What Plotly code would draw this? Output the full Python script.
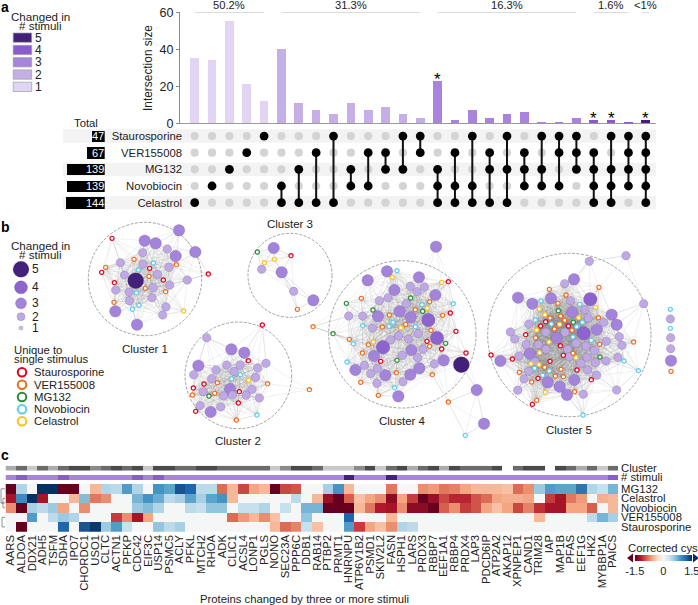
import numpy as np
import plotly.graph_objects as go

W, H = 698, 605
FONT = "Liberation Sans"
TXT = "#222222"

# ---- panel a: upset plot
set_names = ["Staurosporine", "VER155008", "MG132", "Novobiocin", "Celastrol"]
set_codes = "SVMNC"
set_totals = [47, 67, 139, 139, 144]
intersections = ["C", "N", "M", "V", "S",
                 "NC", "MC", "VC", "SC", "MN", "VN", "VM", "SM", "SV",
                 "MNC", "VNC", "SNC", "VMC", "SMC", "VMN", "SMN", "SVN", "SVM",
                 "VMNC", "SMNC", "SVMN", "SVMNC"]
intersection_sizes = [35, 34, 55, 21, 12,
                      40, 11, 7, 5, 11, 7, 9, 5, 3,
                      23, 2, 7, 3, 5, 6, 1, 1, 3,
                      2, 2, 1, 2]
star_cols = [14, 23, 24, 26]
pct_labels = ["50.2%", "31.3%", "16.3%", "1.6%", "<1%"]
pct_start = [0, 5, 14, 23, 25.8]
pct_end = [4, 13, 22, 25, 26.2]
pct_mid = [2, 9, 18, 24, 26]
stim_levels = [5, 4, 3, 2, 1]
stim_colors = {1: "#E2D5F3", 2: "#C6AEE7", 3: "#A884DC", 4: "#8A5CCB", 5: "#43217B"}

# ---- panel b: network, layout units are 1/3 px from (0, 215)
node_px = {5: 16, 4: 13.5, 3: 11.5, 2: 8.5}
node_col = {5: "#43217B", 4: "#8D63CE", 3: "#A384DA", 2: "#BFA9E4"}
ring_col = {"red": "#E1001E", "orange": "#F26A1B", "green": "#2E8B3A", "blue": "#5CCBF5", "yellow": "#FBC21A"}

c1_nodes = {5: [(407, 197)],
            3: [(537, 46), (434, 77), (467, 85), (586, 111), (527, 123), (346, 289), (411, 329)],
            2: [(502, 102), (428, 113), (361, 143), (429, 147), (507, 157), (472, 178), (373, 180), (562, 195),
                (509, 210), (459, 218), (347, 225), (387, 231), (456, 248), (388, 257), (498, 276), (488, 300)]}
c1_rings = {"red": [(336, 70), (305, 172), (449, 160), (490, 195), (343, 203), (625, 177)],
            "orange": [(402, 133), (317, 157), (529, 149), (447, 184), (436, 220), (497, 230), (342, 262)],
            "blue": [(460, 144), (415, 165), (409, 233), (417, 271), (397, 283)],
            "yellow": [(551, 288)]}

c2_nodes = {3: [(595, 452), (632, 591), (694, 403), (733, 413), (690, 522)],
            2: [(620, 368), (720, 450), (798, 445), (773, 459), (648, 465), (680, 450), (702, 469), (767, 487),
                (581, 479), (635, 491), (600, 572), (662, 576), (671, 543), (697, 540), (739, 541), (778, 549),
                (756, 523), (609, 530)]}
c2_rings = {"red": [(787, 330), (745, 437), (580, 519), (612, 507), (718, 530), (715, 564), (587, 589)],
            "orange": [(928, 524), (803, 506), (652, 503), (644, 535), (577, 540), (709, 615)],
            "green": [(627, 543)],
            "blue": [(695, 491), (721, 479), (771, 600)],
            "yellow": [(746, 496)]}

c3_nodes = {3: [(821, 99), (845, 172), (940, 256)],
            2: [(785, 163), (881, 229)]}
c3_rings = {"green": [(772, 111)], "red": [(873, 122)], "yellow": [(823, 133), (793, 143)], "orange": [(892, 283)]}

# clusters 4, 5 and the loose column were read with x measured from 340 px
right_offset = 1020
c4_nodes = {5: [(364, 449)],
            4: [(129, 397), (265, 315), (291, 369)],
            3: [(288, 95), (410, 525), (432, 626), (83, 196), (141, 169), (237, 187), (163, 225), (286, 240),
                (179, 289), (114, 304), (212, 307), (102, 423), (214, 405), (46, 465), (136, 481), (211, 479),
                (238, 460), (311, 436), (175, 544)],
            2: [(211, 214), (231, 230), (253, 216), (144, 248), (118, 257), (199, 266), (26, 303), (68, 303),
                (97, 339), (235, 356), (176, 362), (206, 372), (152, 374), (249, 403), (187, 421), (233, 428),
                (283, 447), (73, 451), (92, 476), (112, 460), (111, 505), (189, 500)]}
c4_rings = {"blue": [(171, 167), (340, 266), (246, 269), (68, 332), (147, 334), (159, 322), (226, 335), (40, 386),
                     (21, 441), (164, 518), (376, 661)],
            "yellow": [(157, 187), (305, 202), (262, 280), (183, 338), (100, 381)],
            "red": [(325, 200), (331, 294), (348, 349), (261, 379), (305, 402), (378, 414), (122, 439)],
            "orange": [(64, 250), (269, 260), (226, 284), (148, 300), (308, 301), (127, 336), (197, 328), (273, 346),
                       (85, 389), (28, 373), (269, 394), (67, 414), (169, 473), (277, 479), (62, 502), (115, 541),
                       (325, 561), (-81, 335)],
            "green": [(19, 265), (212, 249), (99, 285), (248, 289), (317, 385), (171, 436), (-21, 356)]}

c5_nodes = {4: [(751, 253), (731, 355)],
            3: [(534, 248), (577, 266), (633, 250), (702, 193), (697, 291), (815, 299), (830, 329), (770, 344),
                (650, 369), (569, 416), (481, 438), (623, 502), (659, 515), (703, 495), (681, 540)],
            2: [(748, 139), (858, 122), (911, 266), (674, 206), (692, 257), (735, 284), (745, 309), (791, 322),
                (566, 327), (511, 351), (524, 372), (618, 352), (675, 352), (838, 365), (846, 391), (799, 379),
                (558, 389), (595, 389), (683, 403), (708, 385), (618, 403), (738, 393), (763, 407), (537, 423),
                (741, 427), (834, 427), (798, 438), (766, 443), (723, 445), (688, 425), (743, 465), (770, 481),
                (566, 469), (552, 492), (533, 526), (730, 538), (830, 525), (585, 440)]}
c5_rings = {"red": [(453, 420), (517, 432), (557, 359), (602, 333), (617, 320), (685, 333), (661, 392), (670, 421),
                    (630, 439), (711, 465), (754, 494), (594, 490), (577, 568)],
            "orange": [(628, 223), (678, 240), (777, 217), (654, 265), (662, 303), (630, 309), (674, 316), (775, 308),
                       (696, 346), (587, 368), (643, 342), (779, 388), (881, 381), (699, 415), (614, 457), (663, 463),
                       (646, 483), (670, 485), (575, 501), (538, 472), (704, 530), (590, 556)],
            "yellow": [(598, 282), (615, 299), (659, 328), (590, 345), (716, 308), (767, 277), (627, 381), (599, 413),
                       (708, 428), (573, 446), (597, 449), (616, 532)],
            "blue": [(603, 258), (719, 268), (586, 315), (634, 327), (710, 335), (727, 322), (699, 366), (754, 376),
                     (584, 460), (628, 467), (608, 481), (852, 438), (895, 467), (729, 600)],
            "green": [(655, 287), (700, 322), (780, 426)]}

loose_nodes = {3: [(993, 437)], 2: [(991, 312), (992, 368), (992, 401)]}
loose_rings = {"blue": [(991, 283), (991, 340)], "orange": [(993, 469)]}

# name, centre x, centre y, radius, label x, label y
cluster_circles = [("Cluster 1", 435, 192, 170, 436, 401),
                   ("Cluster 2", 715, 481, 160, 713, 678),
                   ("Cluster 3", 870, 181, 126, 870, 27),
                   ("Cluster 4", 1207, 358, 221, 1208, 617),
                   ("Cluster 5", 1708, 360, 245, 1708, 645)]

# ---- panel c: heatmap
proteins = ["AARS", "ALDOA", "DDX21", "ADH5", "TSFM", "SDHA", "IPO7", "CHORDC1", "USO1", "CLTC", "ACTN1", "PFKP",
            "CDC42", "EIF3C", "USP14", "PSMC5", "ACLY", "PFKL", "MTCH2", "RHOA", "ADK", "CLIC1", "ACSL4", "LONP1",
            "PGLS", "NONO", "SEC23A", "PPP6C", "DDB1", "RAB14", "PTBP2", "PRMT1", "HNRNPU", "ATP6V1B2", "PSMD1",
            "SKIV2L2", "FASN", "HSPH1", "LARS", "PRDX3", "RBBP7", "EEF1A1", "RBBP4", "PRDX4", "LAP3", "PDCD6IP",
            "ATP2A2", "AKAP12", "XPNPEP1", "CAND1", "TRIM28", "IAP", "MAP1B", "PFAS", "EEF1G", "HK2", "MYBBP1A",
            "PAICS"]
mg132 = [-1.5, .45, 0, 1.5, 1.5, -1.5, -1.5, 0, -.5, .45, .4, .85, .45, 0, .9, .8, 1.3, 1.2, .4, .4, -.85, -.5,
         -1.0, -.6, -.5, -1.5, -1.0, -.95, 0, 0, .5, .9, -.5, 0, 0, 0, -.8, 0, 0, -.7, -.65, -.8, -.75, -.6, -.5,
         -.5, -.5, -.45, -.85, -.7, .55, .85, .8, .8, 1.1, .45, .35, .7]
celastrol = [-1.25, .95, 1.5, -1.25, 0, 0, -.5, .65, -.8, -.7, 0, 0, .7, .9, .75, .4, .5, .8, .5, .8, .9, -.5,
             0, 0, 0, 0, 0, .4, 0, -.5, -1.3, -1.5, -.9, -.45, -.6, -.7, -1.35, -.6, -1.05, -1.5, -1.3, -1.0, -1.15,
             -1.15, -.95, -.85, -.6, -.55, -.55, -.6, 0, -1.05, -1.25, -.8, -.65, 0, -.55, -.5]
novobiocin = [-.7, -1.5, .5, .4, .55, -.6, 0, -.7, 0, 0, 0, 0, .55, .65, .45, 0, 0, .4, .35, .6, .6, 0, .35, .35,
              .45, 0, .35, 0, .7, .7, -1.5, -1.5, -1.5, -.5, -.8, -1.2, -1.25, -.7, -1.35, -1.35, -1.5, -.9, -.7,
              -1.05, -.95, -.6, -.45, -.6, -1.0, -.75, -1.1, -1.25, -1.25, -.6, -.6, -.9, 0, -.5]
ver155008 = [0, 0, .85, 0, .4, .55, .45, 0, 0, 0, -1.05, -.7, -1.25, -.6, 0, 0, 0, 0, 0, 0, 0, -.85, -.65, -.5,
             -.7, -.45, 0, 0, .6, 0, 0, 0, 1.2, 0, 0, 0, -.5, 0, 0, 0, 0, 0, 0, 0, 0, 0, 0, 0, 0, 0, -.5, 0, 0, 0, 0,
             .4, .7, .5]
staurosporine = [0, -1.5, 0, 0, 0, 1.2, 0, 1.3, 1.45, .55, .85, .35, 0, 0, .6, .4, .5, 0, 0, 0, 0, 0, 0, 0, 0,
                 -.5, -.85, -.75, .35, -.45, 0, 0, .85, -1.05, -.6, -.45, -.7, .45, .4, 0, 0, 0, 0, 0, 0, 0, 0, 0,
                 0, 0, 0, 0, 0, 0, 0, 0, 0, 0]
heat_rows = ["MG132", "Celastrol", "Novobiocin", "VER155008", "Staurosporine"]
protein_cluster = [2, 4, 1, 4, 2, 4, 5, 5, 3, 4, 5, 4, 5, 1, 5, 5, 4, 4, 5, 5, 4, 4, 4, 4, 4, 1, 3, 5, 5, 4, 1, 1, 1,
                   3, 5, 1, 4, 5, 2, 4, 5, 2, 5, 4, 4, 4, 5, None, 4, 5, 5, None, 5, 4, 2, 4, 1, 4]
protein_stimuli = [3, 4, 3, 3, 3, 4, 3, 3, 3, 3, 3, 3, 4, 3, 4, 3, 3, 3, 3, 3, 3, 3, 3, 3, 3, 3, 3, 3, 3, 3, 3, 3, 5,
                   3, 3, 3, 5, 3, 3, 3, 3, 3, 3, 3, 3, 3, 3, 3, 3, 3, 3, 3, 3, 3, 3, 3, 3, 4]
cluster_greys = ["#C8C8C8", "#ABABAB", "#8A8A8A", "#6B6B6B", "#4A4A4A"]
rdbu = [[0, "#67001F"], [.1, "#B2182B"], [.2, "#D6604D"], [.3, "#F4A582"], [.4, "#FDDBC7"], [.5, "#F5F6F6"],
        [.6, "#D1E5F0"], [.7, "#92C5DE"], [.8, "#4393C3"], [.9, "#2166AC"], [1, "#053061"]]


def fx(px):
    return px / W


def fy(px):
    return 1 - px / H


def dom_x(a, b):
    return [fx(a), fx(b)]


def dom_y(top, bottom):
    return [fy(bottom), fy(top)]


def col_range(left, right):
    # column i of the upset plot is centred on 194.7 + 17.35 * i px
    return [(left - 194.7) / 17.35, (right - 194.7) / 17.35]


def note(text, x, y, size=11.3, anchor="center", color=TXT, bold=False, xref="x7", yref="y7"):
    if bold:
        text = "<b>%s</b>" % text
    return dict(text=text, x=x, y=y, xref=xref, yref=yref, showarrow=False, xanchor=anchor, yanchor="middle",
                borderpad=0, font=dict(family=FONT, size=size, color=color))


fig = go.Figure()
annotations = []
shapes = []

# upset bars
fig.add_trace(go.Bar(x=list(range(len(intersection_sizes))), y=intersection_sizes, width=0.5,
                     marker=dict(color=[stim_colors[len(s)] for s in intersections], line_width=0),
                     xaxis="x", yaxis="y", showlegend=False))

# set totals
row_pos = list(range(len(set_names)))
fig.add_trace(go.Bar(x=set_totals, y=row_pos, orientation="h", width=0.68, marker=dict(color="black", line_width=0),
                     xaxis="x3", yaxis="y2", showlegend=False))
for r, total in zip(row_pos, set_totals):
    annotations.append(note(str(total), 0, r, size=11, anchor="right", color="white", xref="x3", yref="y2"))

# matrix dots and connectors
grey_x, grey_y, black_x, black_y, link_x, link_y = [], [], [], [], [], []
for col, members in enumerate(intersections):
    rows = [set_codes.index(c) for c in members]
    for r in row_pos:
        if r in rows:
            black_x.append(col)
            black_y.append(r)
        else:
            grey_x.append(col)
            grey_y.append(r)
    if len(rows) > 1:
        link_x += [col, col, None]
        link_y += [min(rows), max(rows), None]
fig.add_trace(go.Scatter(x=grey_x, y=grey_y, mode="markers", marker=dict(size=8.2, color="#D4D4D4"),
                         xaxis="x2", yaxis="y2", showlegend=False))
fig.add_trace(go.Scatter(x=link_x, y=link_y, mode="lines", line=dict(color="#111111", width=2),
                         xaxis="x2", yaxis="y2", showlegend=False))
fig.add_trace(go.Scatter(x=black_x, y=black_y, mode="markers", marker=dict(size=8.8, color="black"),
                         xaxis="x2", yaxis="y2", showlegend=False))

for r in row_pos[::2]:
    shapes.append(dict(type="rect", xref="paper", yref="y2", x0=fx(63), x1=fx(656), y0=r - 0.4, y1=r + 0.4,
                       fillcolor="#F3F3F3", line_width=0, layer="below"))

for i, label in enumerate(pct_labels):
    shapes.append(dict(type="line", xref="x", yref="y", x0=pct_start[i], x1=pct_end[i], y0=60, y1=60,
                       line=dict(color="#CFCFCF", width=1.2)))
    annotations.append(dict(text=label, x=pct_mid[i], y=60, xref="x", yref="y", showarrow=False, yanchor="bottom",
                            borderpad=0, font=dict(family=FONT, size=11.2, color=TXT)))
for col in star_cols:
    annotations.append(dict(text="*", x=col, y=intersection_sizes[col], xref="x", yref="y", showarrow=False,
                            yanchor="bottom", yshift=-9, borderpad=0, font=dict(family=FONT, size=17, color="black")))

# network: dashed circles, edges then nodes
clusters = [(c1_nodes, c1_rings, 0), (c2_nodes, c2_rings, 0), (c3_nodes, c3_rings, 0),
            (c4_nodes, c4_rings, right_offset), (c5_nodes, c5_rings, right_offset)]
for name, cx, cy, r, lx, ly in cluster_circles:
    shapes.append(dict(type="circle", xref="x7", yref="y7", x0=cx - r, x1=cx + r, y0=cy - r, y1=cy + r,
                       line=dict(color="#8C8C8C", width=0.8, dash="3px,1.5px"), layer="below"))
    annotations.append(note(name, lx, ly, size=11.5))

# the individual edges cannot be read from the hairball: link close nodes, and every node to its nearest ones
edge_x, edge_y = [], []
for nodes, rings, off in clusters:
    pts = [p for v in nodes.values() for p in v] + [p for v in rings.values() for p in v]
    pts = np.array(pts, dtype=float)
    pts[:, 0] += off
    dist = np.hypot(pts[:, None, 0] - pts[None, :, 0], pts[:, None, 1] - pts[None, :, 1])
    for i in range(len(pts)):
        near = np.argsort(dist[i])[1:4]
        for j in range(len(pts)):
            if j != i and (j in near or (i < j and dist[i, j] < 130)):
                edge_x += [pts[i, 0], pts[j, 0], None]
                edge_y += [pts[i, 1], pts[j, 1], None]
fig.add_trace(go.Scatter(x=edge_x, y=edge_y, mode="lines", line=dict(color="rgba(110,110,110,0.2)", width=0.5),
                         xaxis="x7", yaxis="y7", showlegend=False, hoverinfo="skip"))

all_groups = clusters + [(loose_nodes, loose_rings, right_offset)]
for level in [5, 4, 3, 2]:
    xs, ys = [], []
    for nodes, rings, off in all_groups:
        for p in nodes.get(level, []):
            xs.append(p[0] + off)
            ys.append(p[1])
    fig.add_trace(go.Scatter(x=xs, y=ys, mode="markers",
                             marker=dict(size=node_px[level], color=node_col[level],
                                         line=dict(color="rgba(90,70,130,0.45)", width=0.5)),
                             xaxis="x7", yaxis="y7", showlegend=False))
for colour in ring_col:
    xs, ys = [], []
    for nodes, rings, off in all_groups:
        for p in rings.get(colour, []):
            xs.append(p[0] + off)
            ys.append(p[1])
    fig.add_trace(go.Scatter(x=xs, y=ys, mode="markers",
                             marker=dict(size=4.2, color="white", line=dict(color=ring_col[colour], width=1.2)),
                             xaxis="x7", yaxis="y7", showlegend=False))

# legend of panel b
legend_levels = [5, 4, 3, 2, 1]
legend_sizes = [16, 13, 11, 8, 4]
legend_cols = ["#43217B", "#8D63CE", "#A384DA", "#BFA9E4", "#CDBEE8"]
legend_y = [163, 217, 265, 305, 339]
fig.add_trace(go.Scatter(x=[63] * 5, y=legend_y, mode="markers",
                         marker=dict(size=legend_sizes, color=legend_cols, opacity=1,
                                     line=dict(color="rgba(90,70,130,0.45)", width=0.5)),
                         xaxis="x7", yaxis="y7", showlegend=False))
for lev, ly in zip(legend_levels, legend_y):
    annotations.append(note(str(lev), 92, ly, size=12, anchor="left"))
annotations.append(note("Changed in", 122, 92, size=11.6))
annotations.append(note("# stimuli", 122, 117, size=11.6))
annotations.append(note("Unique to", 38, 405, anchor="left"))
annotations.append(note("single stimulus", 38, 433, anchor="left"))
ring_names = ["Staurosporine", "VER155008", "MG132", "Novobiocin", "Celastrol"]
ring_keys = ["red", "orange", "green", "blue", "yellow"]
ring_y = [472, 509, 546, 583, 619]
fig.add_trace(go.Scatter(x=[66] * 5, y=ring_y, mode="markers",
                         marker=dict(size=8.5, color="white", opacity=1,
                                     line=dict(color=[ring_col[k] for k in ring_keys], width=2)),
                         xaxis="x7", yaxis="y7", showlegend=False))
for nm, ly in zip(ring_names, ring_y):
    annotations.append(note(nm, 100, ly, anchor="left"))

# heatmap
heat_z = [mg132, celastrol, novobiocin, ver155008, staurosporine]
fig.add_trace(go.Heatmap(z=heat_z, x=proteins, y=heat_rows, zmin=-1.5, zmax=1.5, colorscale=rdbu, xaxis="x4", yaxis="y4",
                         xgap=0, ygap=0, showscale=True,
                         colorbar=dict(orientation="h", lenmode="pixels", len=57, thicknessmode="pixels", thickness=6,
                                       x=fx(663.3), xanchor="center", y=fy(555), yanchor="top", outlinewidth=0,
                                       xpad=0, ypad=0, tickvals=[-1.5, 0, 1.5], ticktext=["-1.5", "0", "1.5"],
                                       ticks="", ticklabelposition="outside", ticklabeloverflow="allow",
                                       tickfont=dict(family=FONT, size=11, color=TXT))))
annotations.append(note("Corrected cys", 1988, (548 - 215) * 3))
fig.add_trace(go.Heatmap(z=[[None if c is None else c for c in protein_cluster]], x=proteins, y=["Cluster"],
                         zmin=1, zmax=5, showscale=False, xaxis="x5", yaxis="y5",
                         colorscale=[[i / 4, g] for i, g in enumerate(cluster_greys)]))
fig.add_trace(go.Heatmap(z=[protein_stimuli], x=proteins, y=["# stimuli"], zmin=1, zmax=5, showscale=False,
                         xaxis="x6", yaxis="y6", colorscale=[[(k - 1) / 4, stim_colors[k]] for k in range(1, 6)]))

# colourbar arrow heads, dendrogram (units are 1/3 px, y from 215)
fig.add_trace(go.Scatter(x=[1893], y=[(558 - 215) * 3], mode="markers", xaxis="x7", yaxis="y7", showlegend=False,
                         marker=dict(symbol="triangle-left", size=8, color="#67001F")))
fig.add_trace(go.Scatter(x=[2085], y=[(558 - 215) * 3], mode="markers", xaxis="x7", yaxis="y7", showlegend=False,
                         marker=dict(symbol="triangle-right", size=8, color="#053061")))
dend_x = [15, 3, 3, 15, None, 15, 9, 9, 15, None, 3, 9, None, 15, 6, 6, 15]
dend_row = [488.8, 488.8, 503, 503, None, 498.3, 498.3, 507.8, 507.8, None, 503, 503, None, 517.4, 517.4, 526.9, 526.9]
fig.add_trace(go.Scatter(x=dend_x, y=[None if v is None else (v - 215) * 3 for v in dend_row], mode="lines",
                         line=dict(color="#777777", width=0.8), xaxis="x7", yaxis="y7", showlegend=False))

# plain texts and legend of panel a
for letter, py in [("a", 7), ("b", 227), ("c", 455)]:
    annotations.append(note(letter, 0, (py - 215) * 3, size=14, anchor="left", color="black", bold=True))
annotations.append(note("Total", 257, (123 - 215) * 3))
annotations.append(note("Proteins changed by three or more stimuli", 913, (599 - 215) * 3))
annotations.append(note("Changed in", 122, (16 - 215) * 3, size=11.6))
annotations.append(note("# stimuli", 122, (25 - 215) * 3, size=11.6))
for i, lev in enumerate(stim_levels):
    top = 33 + 12.3 * i
    shapes.append(dict(type="rect", xref="paper", yref="paper", x0=fx(13.2), x1=fx(31.7), y0=fy(top + 9.3), y1=fy(top),
                       fillcolor=stim_colors[lev], line=dict(color="#9E9E9E", width=0.7)))
    annotations.append(note(str(lev), 103, (top + 4.7 - 215) * 3, size=12, anchor="left"))

hidden = dict(visible=False, fixedrange=True)
fig.update_layout(
    width=W, height=H, autosize=False, margin=dict(l=0, r=0, t=0, b=0, autoexpand=False),
    paper_bgcolor="white", plot_bgcolor="rgba(0,0,0,0)", showlegend=False, bargap=0,
    font=dict(family=FONT, size=11, color=TXT),
    annotations=annotations, shapes=shapes,
    xaxis=dict(domain=dom_x(180, 656), range=col_range(180, 656), showgrid=False, zeroline=False, showticklabels=False,
               ticks="", showline=False),
    yaxis=dict(domain=dom_y(12.3, 123.7), range=[0, 60], tickvals=[0, 20, 40, 60], showgrid=False, zeroline=True,
               zerolinecolor="#9A9A9A", zerolinewidth=1, showline=True, linecolor="#8A8A8A", linewidth=1, ticks="outside",
               ticklen=3, tickcolor="#8A8A8A", tickfont=dict(family=FONT, size=12.5, color=TXT), anchor="x",
               title=dict(text="Intersection size", font=dict(family=FONT, size=11.9, color=TXT), standoff=4)),
    xaxis2=dict(domain=dom_x(183, 656), range=col_range(183, 656), anchor="y2", **hidden),
    yaxis2=dict(domain=dom_y(127.7, 211), range=[4.5, -0.5], anchor="x2", tickvals=row_pos, ticktext=set_names, showgrid=False,
                zeroline=False, showline=False, ticks="", tickfont=dict(family=FONT, size=11.3, color=TXT), fixedrange=True),
    xaxis3=dict(domain=dom_x(63, 104.7), range=[154, 0], anchor="y2", **hidden),
    xaxis4=dict(domain=dom_x(5.5, 618), anchor="y4", type="category", tickangle=-90, tickmode="array", tickvals=proteins,
                ticks="", showgrid=False, zeroline=False, showline=False, tickfont=dict(family=FONT, size=11.3, color=TXT)),
    yaxis4=dict(domain=dom_y(484, 531.7), anchor="x4", side="right", autorange="reversed", ticks="", showgrid=False,
                zeroline=False, tickmode="array", tickvals=heat_rows, ticklabelstandoff=2,
                tickfont=dict(family=FONT, size=11.3, color=TXT)),
    xaxis5=dict(domain=dom_x(5.5, 618), anchor="y5", type="category", categoryorder="array", categoryarray=proteins,
                **hidden),
    yaxis5=dict(domain=dom_y(465.7, 470.7), anchor="x5", side="right", ticks="", showgrid=False, zeroline=False,
                tickmode="array", tickvals=["Cluster"], ticklabelstandoff=2,
                tickfont=dict(family=FONT, size=11.3, color=TXT)),
    xaxis6=dict(domain=dom_x(5.5, 618), anchor="y6", type="category", categoryorder="array", categoryarray=proteins,
                **hidden),
    yaxis6=dict(domain=dom_y(475, 480), anchor="x6", side="right", ticks="", showgrid=False, zeroline=False,
                tickmode="array", tickvals=["# stimuli"], ticklabelstandoff=2,
                tickfont=dict(family=FONT, size=11.3, color=TXT)),
    xaxis7=dict(domain=[0, 1], range=[0, W * 3], anchor="y7", **hidden),
    yaxis7=dict(domain=[0, 1], range=[(H - 215) * 3, -215 * 3], anchor="x7", **hidden),
)

# the browser's default body margin would push the fixed-size figure off the window
fig.write_html("out.html", config=dict(displayModeBar=False), post_script="document.body.style.margin='0';")
